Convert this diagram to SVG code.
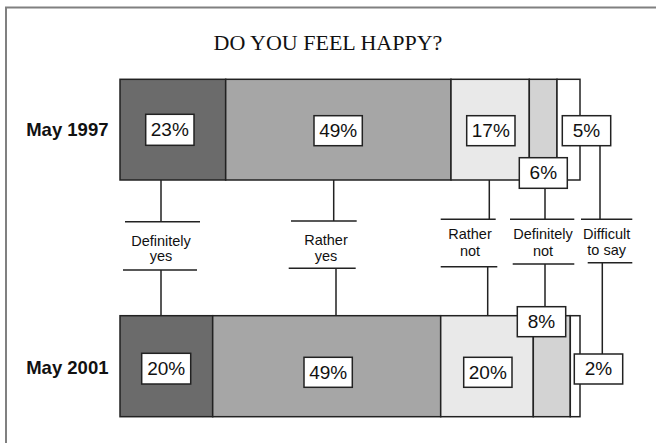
<svg xmlns="http://www.w3.org/2000/svg" width="656" height="443" viewBox="0 0 656 443">
<style>
.seg{stroke:#222;stroke-width:1.5}
.box{fill:#fff;stroke:#222;stroke-width:1.5}
.pct{font-family:"Liberation Sans",Arial,sans-serif;font-size:19px;fill:#111;text-anchor:middle}
.yr{font-family:"Liberation Sans",Arial,sans-serif;font-size:18.5px;font-weight:bold;fill:#111;text-anchor:end}
.lbl{font-family:"Liberation Sans",Arial,sans-serif;font-size:14.5px;fill:#111;text-anchor:middle}
.ln{stroke:#222;stroke-width:1.5;fill:none}
.frame{stroke:#808080;stroke-width:2;fill:none}
</style>
<path class="frame" d="M6,443 V7.5 H656"/>
<text x="328" y="50" font-family="Liberation Serif,Times New Roman,serif" font-size="22" text-anchor="middle" fill="#111">DO YOU FEEL HAPPY?</text>

<g id="connectors">
<path class="ln" d="M161,145.3V221.7 M125,221.7H200 M123,270H197 M161,270V353.3"/>
<path class="ln" d="M333.7,145.7V221 M291,221H356.7 M288.7,268.3H355.7 M336,268.3V357.3"/>
<path class="ln" d="M489.3,145.7V219.3 M440.7,219.3H495.7 M440.7,266.7H497.3 M487.7,266.7V357.3"/>
<path class="ln" d="M545,188.3V219.3 M510,219.3H574.3 M512.7,264H574.3 M545,264V306.7"/>
<path class="ln" d="M600,145.7V219.3 M581,219.3H632.3 M587.7,262.7H632.3 M602.3,262.7V354"/>
</g>

<g id="bar1997">
<text class="yr" x="108.5" y="135.5">May 1997</text>
<rect class="seg" x="120" y="79.3" width="105.7" height="100.7" fill="#6b6b6b"/>
<rect class="seg" x="225.7" y="79.3" width="225.3" height="100.7" fill="#a6a6a6"/>
<rect class="seg" x="451" y="79.3" width="78.3" height="100.7" fill="#e9e9e9"/>
<rect class="seg" x="529.3" y="79.3" width="27.7" height="100.7" fill="#d3d3d3"/>
<rect class="seg" x="557" y="79.3" width="23" height="100.7" fill="#fff"/>
</g>

<g id="bar2001">
<text class="yr" x="108.5" y="374.3">May 2001</text>
<rect class="seg" x="120" y="315.7" width="92.7" height="101" fill="#6b6b6b"/>
<rect class="seg" x="212.7" y="315.7" width="228" height="101" fill="#a6a6a6"/>
<rect class="seg" x="440.7" y="315.7" width="92.6" height="101" fill="#e9e9e9"/>
<rect class="seg" x="533.3" y="315.7" width="37" height="101" fill="#d3d3d3"/>
<rect class="seg" x="570.3" y="315.7" width="9.7" height="101" fill="#fff"/>
</g>

<g id="definitely-yes">
<rect class="box" x="145.7" y="114.3" width="48.3" height="31"/>
<text class="pct" x="169.8" y="136">23%</text>
<text class="lbl" x="161" y="245.5">Definitely</text>
<text class="lbl" x="161" y="260.5">yes</text>
<rect class="box" x="141.7" y="353.3" width="49" height="30.7"/>
<text class="pct" x="166.2" y="375">20%</text>
</g>

<g id="rather-yes">
<rect class="box" x="314" y="115.7" width="48.3" height="30"/>
<text class="pct" x="338.2" y="136.8">49%</text>
<text class="lbl" x="326" y="245">Rather</text>
<text class="lbl" x="326" y="260.5">yes</text>
<rect class="box" x="304" y="357.3" width="48.3" height="30"/>
<text class="pct" x="328.2" y="378.5">49%</text>
</g>

<g id="rather-not">
<rect class="box" x="466.7" y="115.7" width="48.3" height="30"/>
<text class="pct" x="490.8" y="136.8">17%</text>
<text class="lbl" x="470" y="239.3">Rather</text>
<text class="lbl" x="470" y="256">not</text>
<rect class="box" x="463.7" y="357.3" width="48.3" height="30"/>
<text class="pct" x="487.8" y="378.5">20%</text>
</g>

<g id="definitely-not">
<rect class="box" x="519.3" y="157.7" width="48" height="30.6"/>
<text class="pct" x="543.3" y="179">6%</text>
<text class="lbl" x="543" y="239.3">Definitely</text>
<text class="lbl" x="543" y="256">not</text>
<rect class="box" x="517.3" y="306.7" width="48.4" height="30"/>
<text class="pct" x="541.5" y="328">8%</text>
</g>

<g id="difficult-to-say">
<rect class="box" x="562.3" y="115.7" width="48.4" height="30"/>
<text class="pct" x="586.5" y="136.8">5%</text>
<text class="lbl" x="606.7" y="238.5">Difficult</text>
<text class="lbl" x="606.7" y="254.5">to say</text>
<rect class="box" x="574.3" y="354" width="48.4" height="30"/>
<text class="pct" x="598.5" y="375.2">2%</text>
</g>
</svg>
